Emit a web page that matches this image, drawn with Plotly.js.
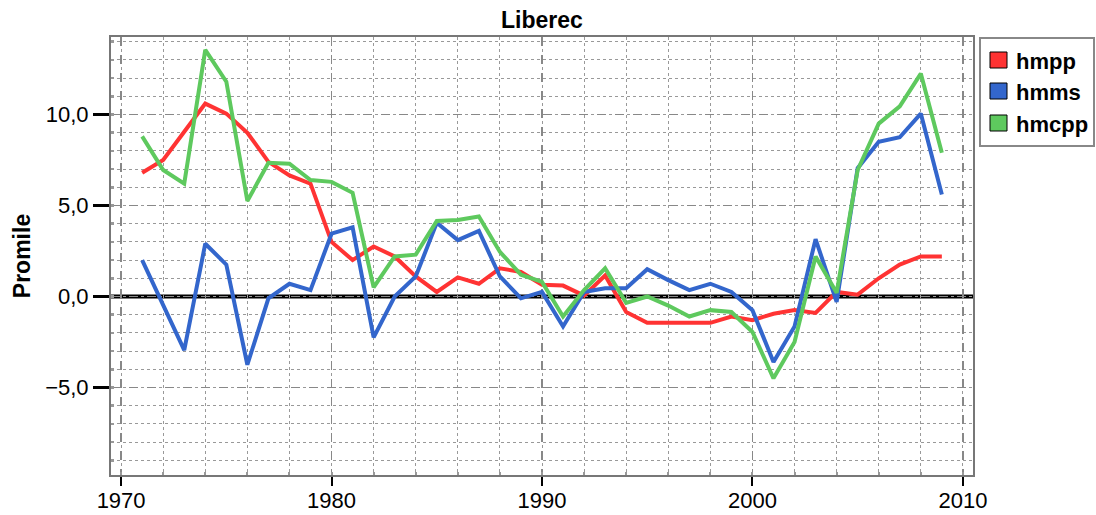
<!DOCTYPE html>
<html>
<head>
<meta charset="utf-8">
<script src="https://cdn.plot.ly/plotly-3.0.1.min.js"></script>
<style>html,body{margin:0;padding:0;background:#fff;}#chart{width:1096px;height:515px;}</style>
</head>
<body>
<div id="chart"></div>
<script>
var years = [1971,1972,1973,1974,1975,1976,1977,1978,1979,1980,1981,1982,1983,1984,1985,1986,1987,1988,1989,1990,1991,1992,1993,1994,1995,1996,1997,1998,1999,2000,2001,2002,2003,2004,2005,2006,2007,2008,2009];
var hmpp = [6.8,7.5,9.05,10.6,10.05,9.0,7.4,6.65,6.2,3.0,2.0,2.75,2.2,1.1,0.25,1.05,0.7,1.55,1.35,0.65,0.6,0.05,1.15,-0.85,-1.45,-1.45,-1.45,-1.45,-1.1,-1.3,-0.95,-0.75,-0.9,0.25,0.1,1.0,1.75,2.2,2.2];
var hmms = [2.0,-0.45,-2.95,2.9,1.75,-3.75,-0.1,0.7,0.35,3.45,3.8,-2.25,0.0,1.1,4.05,3.1,3.6,1.1,-0.1,0.25,-1.65,0.25,0.45,0.45,1.5,0.9,0.35,0.7,0.25,-0.75,-3.6,-1.65,3.15,-0.3,7.05,8.5,8.75,10.05,5.6];
var hmcpp = [8.8,6.95,6.2,13.55,11.8,5.25,7.35,7.3,6.4,6.3,5.7,0.5,2.2,2.3,4.15,4.2,4.4,2.45,1.2,0.8,-1.1,0.35,1.55,-0.35,0.0,-0.5,-1.1,-0.75,-0.85,-1.95,-4.5,-2.5,2.2,0.2,6.95,9.5,10.45,12.25,7.9];
var seriesNames = ['hmpp','hmms','hmcpp'];
var seriesColors = ['rgb(255,51,51)','rgb(51,102,204)','rgb(94,201,94)'];
var xTicks = [1970,1980,1990,2000,2010];
var yTicks = [-5,0,5,10];

var W = 1096, H = 515, ML = 111, MR = 123, MT = 37, MB = 40;
var PW = W - ML - MR, PH = H - MT - MB;
function px(x){ return (x - ML) / PW; }
function py(y){ return (H - MB - y) / PH; }

var data = [hmpp, hmms, hmcpp];
var traces = data.map(function(vals, i){
  return {x: years, y: vals, type:'scatter', mode:'lines', name: seriesNames[i],
    line:{color: seriesColors[i], width:4}, showlegend:false};
});

var shapes = [
  {type:'line', xref:'paper', x0:0, x1:1, yref:'y', y0:0, y1:0, layer:'between', line:{color:'#000', width:4}},
  {type:'line', xref:'paper', x0:0, x1:1, yref:'y', y0:0, y1:0, layer:'between', line:{color:'#999', width:1, dash:'dash'}},
  {type:'rect', xref:'paper', yref:'paper', x0:px(980), x1:px(1094), y0:py(146), y1:py(38), line:{color:'#888', width:2}, fillcolor:'#fff', layer:'above'}
];
var annotations = [];
var legendY = [60, 91, 123];
seriesNames.forEach(function(n, i){
  var cy = legendY[i];
  shapes.push({type:'rect', xref:'paper', yref:'paper', x0:px(990), x1:px(1007), y0:py(cy+8), y1:py(cy-8),
    fillcolor: seriesColors[i], line:{color:'#000', width:1}, layer:'above'});
  annotations.push({xref:'paper', yref:'paper', x:px(1014), y:py(cy+1), xanchor:'left', yanchor:'middle',
    text:'<b>'+n+'</b>', showarrow:false, font:{size:22, color:'#000'}});
});

var layout = {
  width:W, height:H,
  margin:{l:ML, r:MR, t:MT, b:MB},
  paper_bgcolor:'#fff', plot_bgcolor:'#fff',
  font:{family:'"Liberation Sans", Arial, sans-serif', color:'#000'},
  separators: ',.',
  title:{text:'<b>Liberec</b>', font:{size:23, color:'#000'}, x:0.4945, xanchor:'center', y:0.961, yanchor:'middle', yref:'container'},
  showlegend:false,
  xaxis:{range:[1969.52, 2010.48], tickvals:xTicks, ticktext:xTicks.map(String),
    ticks:'outside', ticklen:9, tickwidth:2, tickcolor:'#000', ticklabelstandoff:-4,
    showline:true, mirror:true, linecolor:'#777', linewidth:2,
    showgrid:true, gridcolor:'#888', griddash:'dash', gridwidth:1.3,
    minor:{dtick:2, showgrid:true, gridcolor:'#999', griddash:'dot', gridwidth:1, ticks:'inside', ticklen:3, tickcolor:'#999'},
    tickfont:{size:22, color:'#000'}, zeroline:false, fixedrange:true},
  yaxis:{range:[-9.81, 14.26], tickvals:yTicks, tickformat:'.1f',
    ticks:'outside', ticklen:16, tickwidth:2.5, tickcolor:'#000',
    showline:true, mirror:true, linecolor:'#777', linewidth:2,
    showgrid:true, gridcolor:'#888', griddash:'dash', gridwidth:1.3,
    minor:{dtick:1, showgrid:true, gridcolor:'#999', griddash:'dot', gridwidth:1, ticks:'inside', ticklen:3, tickcolor:'#999'},
    zeroline:false,
    tickfont:{size:22, color:'#000'},
    title:{text:'<b>Promile</b>', font:{size:23, color:'#000'}, standoff:8}, fixedrange:true},
  shapes: shapes,
  annotations: annotations
};
Plotly.newPlot('chart', traces, layout, {displayModeBar:false, staticPlot:true});
</script>
</body>
</html>
